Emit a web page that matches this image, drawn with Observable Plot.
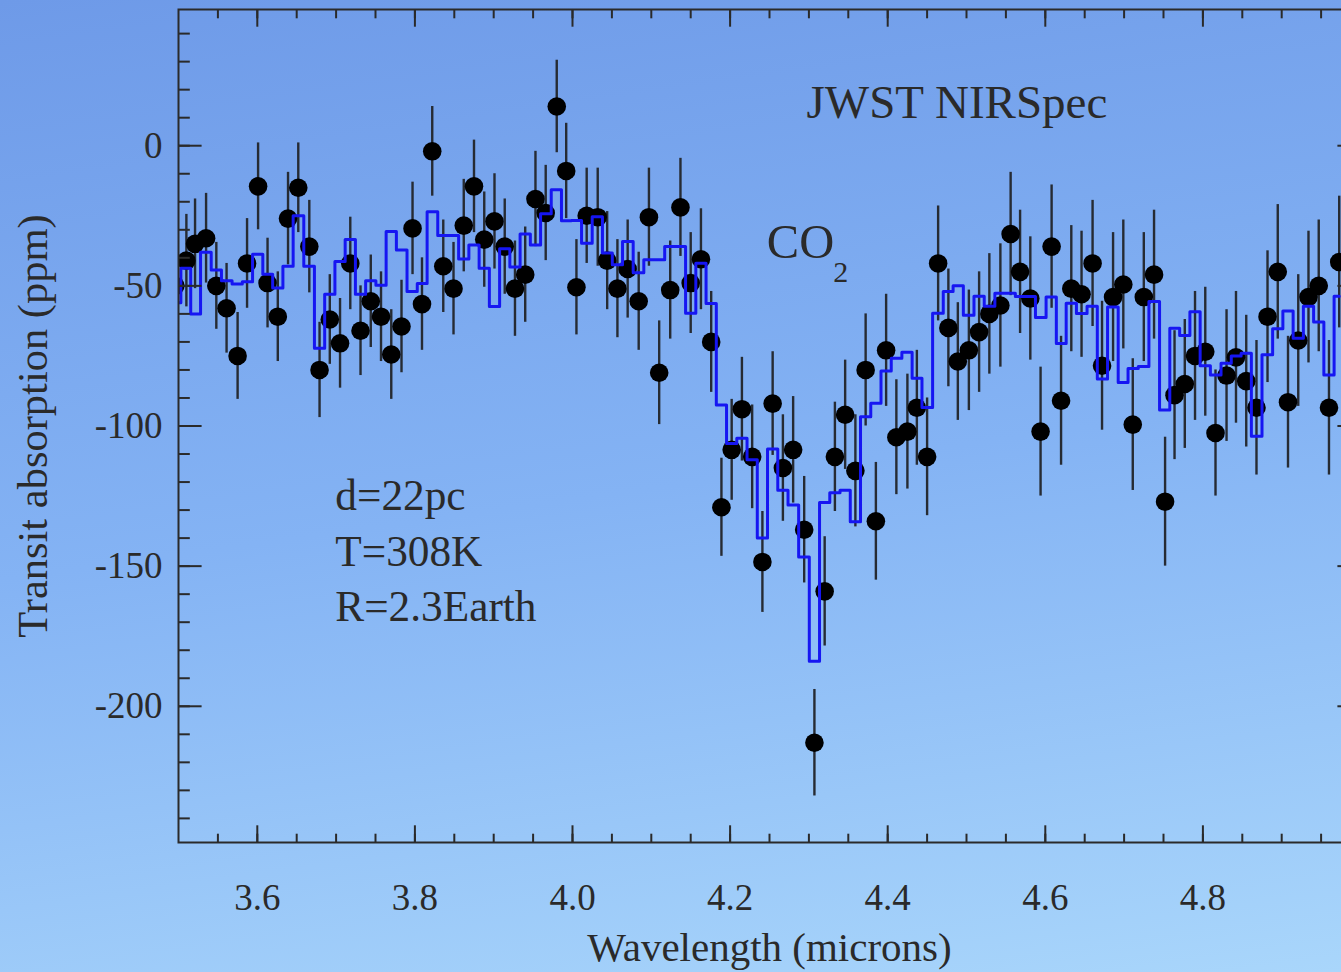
<!DOCTYPE html>
<html><head><meta charset="utf-8">
<script src="https://cdn.jsdelivr.net/npm/d3@7"></script>
<script src="https://cdn.jsdelivr.net/npm/@observablehq/plot@0.6"></script>
<style>
html,body{margin:0;padding:0;width:1341px;height:972px;overflow:hidden;}
body{background:linear-gradient(172deg,#6e9ae8 0%,#84b3f4 50%,#a9d6fb 100%);}
#chart{position:absolute;left:0;top:0;}
</style></head><body><div id="chart"></div>
<script>
// Wavelength of each spectral bin (microns)
const wavelength = [3.496,3.510,3.521,3.535,3.548,3.561,3.575,3.587,3.601,3.613,
3.626,3.639,3.652,3.666,3.679,3.692,3.705,3.718,3.731,3.744,
3.757,3.770,3.783,3.797,3.809,3.822,3.836,3.849,3.862,3.875,
3.888,3.901,3.914,3.927,3.940,3.953,3.966,3.980,3.992,4.005,
4.018,4.032,4.044,4.057,4.070,4.084,4.097,4.110,4.124,4.137,
4.150,4.163,4.176,4.189,4.202,4.215,4.228,4.241,4.254,4.267,
4.280,4.294,4.307,4.320,4.333,4.346,4.359,4.372,4.385,4.398,
4.411,4.425,4.437,4.450,4.464,4.477,4.489,4.503,4.516,4.529,
4.543,4.556,4.568,4.581,4.594,4.608,4.620,4.633,4.646,4.660,
4.672,4.686,4.699,4.711,4.725,4.738,4.752,4.764,4.777,4.790,
4.803,4.816,4.830,4.842,4.855,4.868,4.882,4.895,4.908,4.921,
4.934,4.947,4.960,4.973];
// Simulated observed transit absorption (ppm)
const absorption = [-50,-41,-35,-33,-50,-58,-75,-42,-14.5,-49,
-61,-26,-15,-36,-80,-62,-70.5,-42,-66,-55.5,
-61,-74.5,-64.5,-29.5,-56.5,-2,-43,-51,-28.5,-14.5,
-33.5,-27,-36,-51,-46,-19,-24,14,-9,-50.5,
-25,-25.5,-41,-51,-44,-55.5,-25.5,-81,-51.5,-22,
-49,-40.5,-70,-129,-108.5,-94,-111,-148.5,-92,-115,
-108.5,-137,-213,-159,-111,-96,-116,-80,-134,-73,
-104,-102,-93.5,-111,-42,-65,-77,-73,-66.5,-60,
-57,-31.5,-45,-54.5,-102,-36,-91,-51,-53,-42,
-78.5,-54,-49.5,-99.5,-54,-46,-127,-89,-85,-75,
-73.5,-102.5,-82,-75.5,-84,-93.5,-61,-45,-91.5,-69.5,
-54,-50,-93.5,-41.5];
// 1-sigma error (ppm)
const errorPpm = [16,16.5,16,16,15.5,16,15.5,16,15.5,16,
16,16.5,16,16.5,17,16,16,16.5,16,16.5,
16,16,16.5,16.5,16.5,16,16.5,16.5,16.5,16.5,
17,17,17,17,17,17,17,16.5,17,17,
17,17.5,17.5,17.5,17.5,17.5,17.5,18.5,17.5,17.5,
18,18,18,17.5,18,18.5,18.5,18,18.5,19,
19,19,19,19.5,19.5,19.5,20,20,21,20,
20.5,20.5,20.5,21,20.5,21,21,21.5,21.5,21.5,
22,22,22,22,23,22,23,22.5,22.5,22.5,
23,23,23,23.5,23,23,23,23,23,23,
23,22.5,23.5,23.5,23.5,24,23.5,24,23.5,23.5,
23.5,23.5,24,23.5];
// Binned model spectrum (ppm)
const model = [-56,-43.7,-60,-38,-44.3,-48.2,-49.3,-48.5,-38.7,-45.9,
-50.8,-43,-25,-43,-72.3,-53,-41.3,-33.5,-53,-48.2,
-49.8,-30.6,-37.2,-52,-49.2,-23.6,-32,-32,-40.4,-35.4,
-43.7,-57.4,-36.8,-43.3,-31.5,-35.4,-24.3,-15.7,-26.8,-26.7,
-34.8,-25.3,-38.3,-42.5,-34.2,-45.3,-40.7,-40.7,-36,-36,
-59.8,-41.9,-56.3,-92.5,-106.2,-104.4,-112,-140,-108.2,-122.9,
-128.2,-146.7,-183.9,-127.3,-123.8,-122.9,-134.2,-96.7,-91.9,-80.4,
-75.8,-73.7,-83,-93.4,-59.8,-52,-50,-60.5,-53.7,-57.3,
-52.6,-52.6,-53.8,-53.8,-61.3,-54,-70.6,-56.2,-59.9,-57.3,
-83.2,-57.5,-84.5,-79.5,-78.8,-55.6,-94.3,-65.1,-67.7,-59.2,
-78.5,-81.8,-77.6,-75,-74,-103.7,-74.6,-65.3,-59,-68.7,
-57.3,-62.9,-81.8,-53.7];

const xMajorTicks = [3.6,3.8,4.0,4.2,4.4,4.6,4.8,5.0];
const xTickLabels = [3.6,3.8,4.0,4.2,4.4,4.6,4.8];
const yTickLabels = [-200,-150,-100,-50,0];
const xMinorTicks = d3.range(3.55,5.0,0.05).map(v=>+v.toFixed(2));
const yMinorTicks = d3.range(-240,50,10);

const pts = wavelength.map((w,i)=>({w, y:absorption[i], e:errorPpm[i], m:model[i]}));

const ink = "#2a2a2a";
const font = "Liberation Serif, Times New Roman, serif";

const chart = Plot.plot({
  width: 1362, height: 972,
  marginLeft: 178, marginRight: 2, marginTop: 9, marginBottom: 130,
  style: {background: "transparent", maxWidth: "none", overflow: "visible", color: ink, fontFamily: font},
  x: {domain: [3.5, 5.0]},
  y: {domain: [-248.6, 48.6]},
  marks: [
    Plot.ruleX(pts, {x:"w", y1: d=>d.y-d.e, y2: d=>d.y+d.e, stroke:"#262b33", strokeWidth:2.4, clip:true}),
    Plot.dot(pts, {x:"w", y:"y", r:9.3, fill:"#000", clip:true}),
    Plot.line(pts, {x:"w", y:"m", curve:"step", stroke:"#1616f2", strokeWidth:3, clip:true}),
    Plot.frame({stroke: ink, strokeWidth: 2}),
    // inward ticks
    Plot.axisX({anchor:"bottom", ticks: xMajorTicks, tickSize:-16.7, tickFormat:()=>"", label:null, strokeWidth:2}),
    Plot.axisX({anchor:"bottom", ticks: xMinorTicks, tickSize:-8.3, tickFormat:()=>"", label:null, strokeWidth:2}),
    Plot.axisX({anchor:"top", ticks: xMajorTicks, tickSize:-16.7, tickFormat:()=>"", label:null, strokeWidth:2}),
    Plot.axisX({anchor:"top", ticks: xMinorTicks, tickSize:-8.3, tickFormat:()=>"", label:null, strokeWidth:2}),
    Plot.axisY({anchor:"left", ticks: yTickLabels, tickSize:-23.6, tickFormat:()=>"", label:null, strokeWidth:2}),
    Plot.axisY({anchor:"left", ticks: yMinorTicks, tickSize:-11.8, tickFormat:()=>"", label:null, strokeWidth:2}),
    Plot.axisY({anchor:"right", ticks: yTickLabels, tickSize:-23.6, tickFormat:()=>"", label:null, strokeWidth:2}),
    Plot.axisY({anchor:"right", ticks: yMinorTicks, tickSize:-11.8, tickFormat:()=>"", label:null, strokeWidth:2}),
    // tick labels
    Plot.axisX({anchor:"bottom", ticks: xTickLabels, tickSize:0, tickPadding:41, tickFormat:d=>d.toFixed(1), label:null, fontSize:37}),
    Plot.axisY({anchor:"left", ticks: yTickLabels, tickSize:0, tickPadding:16, tickFormat:d=>String(d), label:null, fontSize:37}),
    // axis titles
    Plot.text(["Wavelength (microns)"], {frameAnchor:"bottom", dy:118, lineAnchor:"bottom", fontSize:41, fill:ink}),
    Plot.text(["Transit absorption (ppm)"], {frameAnchor:"left", dx:-145, rotate:-90, textAnchor:"middle", fontSize:42.5, fill:ink}),
    // annotations
    Plot.text([{x:4.297, y:10, t:"JWST NIRSpec"}], {x:"x", y:"y", text:"t", textAnchor:"start", lineAnchor:"bottom", fontSize:47, fill:ink}),
    Plot.text([{x:4.2466, y:-40, t:"CO"}], {x:"x", y:"y", text:"t", textAnchor:"start", lineAnchor:"bottom", fontSize:48.5, fill:ink}),
    Plot.text([{x:4.331, y:-48.6, t:"2"}], {x:"x", y:"y", text:"t", textAnchor:"start", lineAnchor:"bottom", fontSize:30, fill:ink}),
    Plot.text([{x:3.699, y:-130, t:"d=22pc"},{x:3.699, y:-150, t:"T=308K"},{x:3.699, y:-169.6, t:"R=2.3Earth"}], {x:"x", y:"y", text:"t", textAnchor:"start", lineAnchor:"bottom", fontSize:43.3, fill:ink})
  ]
});
document.getElementById("chart").appendChild(chart);
</script></body></html>
